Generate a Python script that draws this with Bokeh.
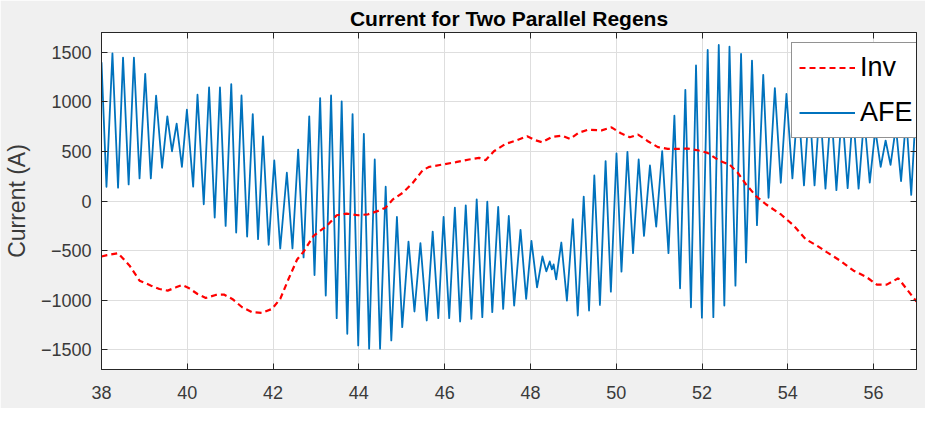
from bokeh.plotting import figure
from bokeh.models import Range1d, LinearAxis, FixedTicker, Legend, LegendItem
from bokeh.embed import file_html
from bokeh.resources import INLINE

# ---- data ----
x_ticks = [38, 40, 42, 44, 46, 48, 50, 52, 54, 56]
y_ticks = [-1500, -1000, -500, 0, 500, 1000, 1500]

# AFE current: successive peaks / troughs of the oscillation (time, A)
afe_t = [38.00, 38.116, 38.255, 38.386, 38.502, 38.633, 38.756, 38.887, 39.019, 39.150,
         39.273, 39.412, 39.535, 39.643, 39.752, 39.875, 39.991, 40.137, 40.238, 40.384,
         40.508, 40.639, 40.762, 40.894, 41.025, 41.140, 41.264, 41.395, 41.526, 41.650,
         41.765, 41.897, 42.028, 42.167, 42.321, 42.452, 42.585, 42.711, 42.843, 42.966,
         43.097, 43.228, 43.352, 43.483, 43.599, 43.730, 43.853, 43.985, 44.116, 44.239,
         44.370, 44.494, 44.625, 44.756, 44.887, 45.011, 45.157, 45.296, 45.435, 45.582,
         45.721, 45.852, 45.975, 46.106, 46.238, 46.361, 46.492, 46.623, 46.747, 46.878,
         46.994, 47.110, 47.248, 47.364, 47.495, 47.620, 47.769, 47.900, 48.023, 48.154,
         48.280, 48.370, 48.450, 48.500, 48.540, 48.600, 48.720, 48.850, 48.988, 49.103,
         49.242, 49.366, 49.489, 49.620, 49.752, 49.875, 50.006, 50.122, 50.261, 50.392,
         50.523, 50.647, 50.786, 50.932, 51.071, 51.218, 51.356, 51.488, 51.611, 51.742,
         51.860, 51.997, 52.132, 52.264, 52.390, 52.520, 52.640, 52.779, 52.910, 53.026,
         53.165, 53.281, 53.427, 53.551, 53.698, 53.836, 53.968, 54.107, 54.238, 54.377,
         54.500, 54.623, 54.747, 54.878, 55.010, 55.133, 55.264, 55.395, 55.519, 55.650,
         55.780, 55.910, 56.040, 56.165, 56.280, 56.395, 56.520, 56.640, 56.760, 56.877,
         57.000]
afe_i = [1400, 144, 1490, 134, 1447, 167, 1447, 228, 1283, 228,
         1062, 335, 854, 502, 780, 345, 921, 144, 1072, -33,
         1145, -167, 1145, -251, 1179, -318, 1065, -358, 877, -385,
         653, -442, 409, -479, 285, -479, 519, -569, 854, -747,
         1038, -954, 1065, -1182, 1005, -1340, 877, -1457, 676, -1490,
         419, -1490, 144, -1407, -161, -1273, -409, -1115, -425, -1206,
         -308, -1182, -161, -1182, -67, -1216, -44, -1189, 17, -1172,
         -7, -1122, -60, -1089, -151, -1055, -291, -988, -402, -871,
         -560, -710, -610, -690, -640, -790, -419, -1005, -184, -1155,
         44, -1105, 258, -1048, 402, -914, 479, -713, 496, -526,
         419, -352, 358, -258, 502, -526, 861, -881, 1122, -1072,
         1368, -1177, 1524, -1172, 1574, -1055, 1557, -854, 1484, -620,
         1417, -244, 1273, 33, 1139, 184, 1080, 228, 1020, 157,
         1000, 157, 980, 124, 950, 110, 930, 130, 900, 125,
         850, 185, 720, 345, 610, 365, 750, 201, 850, 62,
         1038]

# Inverter current (time, A)
inv_t = [38.0, 38.13, 38.386, 38.656, 38.887, 39.157, 39.350, 39.543, 39.736, 39.875,
         40.045, 40.238, 40.431, 40.662, 40.855, 41.048, 41.279, 41.511, 41.742, 41.974,
         42.167, 42.360, 42.560, 42.711, 42.943, 43.252, 43.483, 43.715, 43.985, 44.216,
         44.448, 44.625, 44.795, 45.026, 45.258, 45.489, 45.644, 45.952, 46.261, 46.569,
         46.801, 46.955, 47.148, 47.418, 47.650, 47.923, 48.116, 48.270, 48.502, 48.733,
         48.926, 49.119, 49.350, 49.659, 49.890, 50.122, 50.315, 50.508, 50.739, 50.971,
         51.202, 51.434, 51.665, 51.897, 52.128, 52.409, 52.640, 52.833, 53.026, 53.258,
         53.489, 53.836, 54.145, 54.415, 54.685, 54.917, 55.225, 55.534, 55.843, 56.074,
         56.306, 56.576, 56.769, 57.0]
inv_i = [-560, -546, -526, -653, -804, -854, -888, -904, -871, -847,
         -881, -938, -978, -948, -944, -988, -1072, -1122, -1129, -1089,
         -988, -787, -590, -512, -352, -251, -144, -127, -144, -134,
         -100, -67, 17, 84, 184, 311, 345, 368, 392, 419,
         435, 412, 502, 576, 608, 653, 613, 593, 646, 660,
         626, 687, 720, 713, 743, 680, 643, 670, 603, 543,
         526, 526, 529, 512, 486, 405, 368, 285, 167, 50,
         -33, -134, -251, -385, -452, -519, -603, -703, -770, -844,
         -844, -780, -888, -1015]

FONT = "Liberation Sans"
AX = "#262626"

p = figure(width=925, height=408, x_range=Range1d(38, 57), y_range=Range1d(-1700, 1700),
           output_backend="svg", toolbar_location=None,
           title="Current for Two Parallel Regens",
           min_border_left=95, min_border_right=9, min_border_top=32, min_border_bottom=39)

p.background_fill_color = "white"
p.border_fill_color = "#f0f0f0"
p.outline_line_color = AX
p.outline_line_width = 1

p.title.text_font = FONT
p.title.text_font_size = "21px"
p.title.text_font_style = "bold"
p.title.text_color = "#000000"
p.title.align = "center"
p.title.standoff = 6

for ax in (p.xaxis[0], p.yaxis[0]):
    ax.major_tick_in = 6
    ax.major_tick_out = 0
    ax.minor_tick_line_color = None
    ax.axis_line_color = AX
    ax.major_tick_line_color = AX
    ax.major_label_text_font = FONT
    ax.major_label_text_font_size = "18px"
    ax.major_label_text_color = "#3a3a3a"

p.xaxis[0].ticker = FixedTicker(ticks=x_ticks)
p.yaxis[0].ticker = FixedTicker(ticks=y_ticks)
p.xaxis[0].major_label_standoff = 16
p.yaxis[0].major_label_standoff = 10
p.yaxis[0].axis_label = "Current (A)"
p.yaxis[0].axis_label_text_font = FONT
p.yaxis[0].axis_label_text_font_size = "23px"
p.yaxis[0].axis_label_text_font_style = "normal"
p.yaxis[0].axis_label_text_color = "#3a3a3a"
p.yaxis[0].axis_label_standoff = 8

# mirrored box ticks (top and right)
top_ax = LinearAxis(ticker=FixedTicker(ticks=x_ticks), major_tick_in=6, major_tick_out=0,
                    minor_tick_line_color=None, major_label_text_font_size="0px",
                    major_label_standoff=0, axis_line_color=AX, major_tick_line_color=AX)
right_ax = LinearAxis(ticker=FixedTicker(ticks=y_ticks), major_tick_in=6, major_tick_out=0,
                      minor_tick_line_color=None, major_label_text_font_size="0px",
                      major_label_standoff=0, axis_line_color=AX, major_tick_line_color=AX)
p.add_layout(top_ax, "above")
p.add_layout(right_ax, "right")

p.xgrid.ticker = FixedTicker(ticks=x_ticks)
p.ygrid.ticker = FixedTicker(ticks=y_ticks)
p.grid.grid_line_color = "#dedede"
p.grid.grid_line_width = 1

r_afe = p.line(afe_t, afe_i, line_color="#0072BD", line_width=1.8, line_join="round")
r_inv = p.line(inv_t, inv_i, line_color="#FF0000", line_width=2.2, line_dash="6 4")

legend = Legend(items=[LegendItem(label="Inv", renderers=[r_inv]),
                       LegendItem(label="AFE", renderers=[r_afe])],
                location=(690, 231))
legend.label_text_font = FONT
legend.label_text_font_size = "27px"
legend.label_text_color = "#000000"
legend.glyph_width = 56
legend.glyph_height = 35
legend.label_height = 35
legend.label_standoff = 5
legend.padding = 7
legend.spacing = 10
legend.margin = 0
legend.border_line_color = AX
legend.border_line_width = 1
legend.background_fill_color = "white"
legend.background_fill_alpha = 1.0
p.add_layout(legend, "center")

open("out.html", "w").write(file_html(p, INLINE))
